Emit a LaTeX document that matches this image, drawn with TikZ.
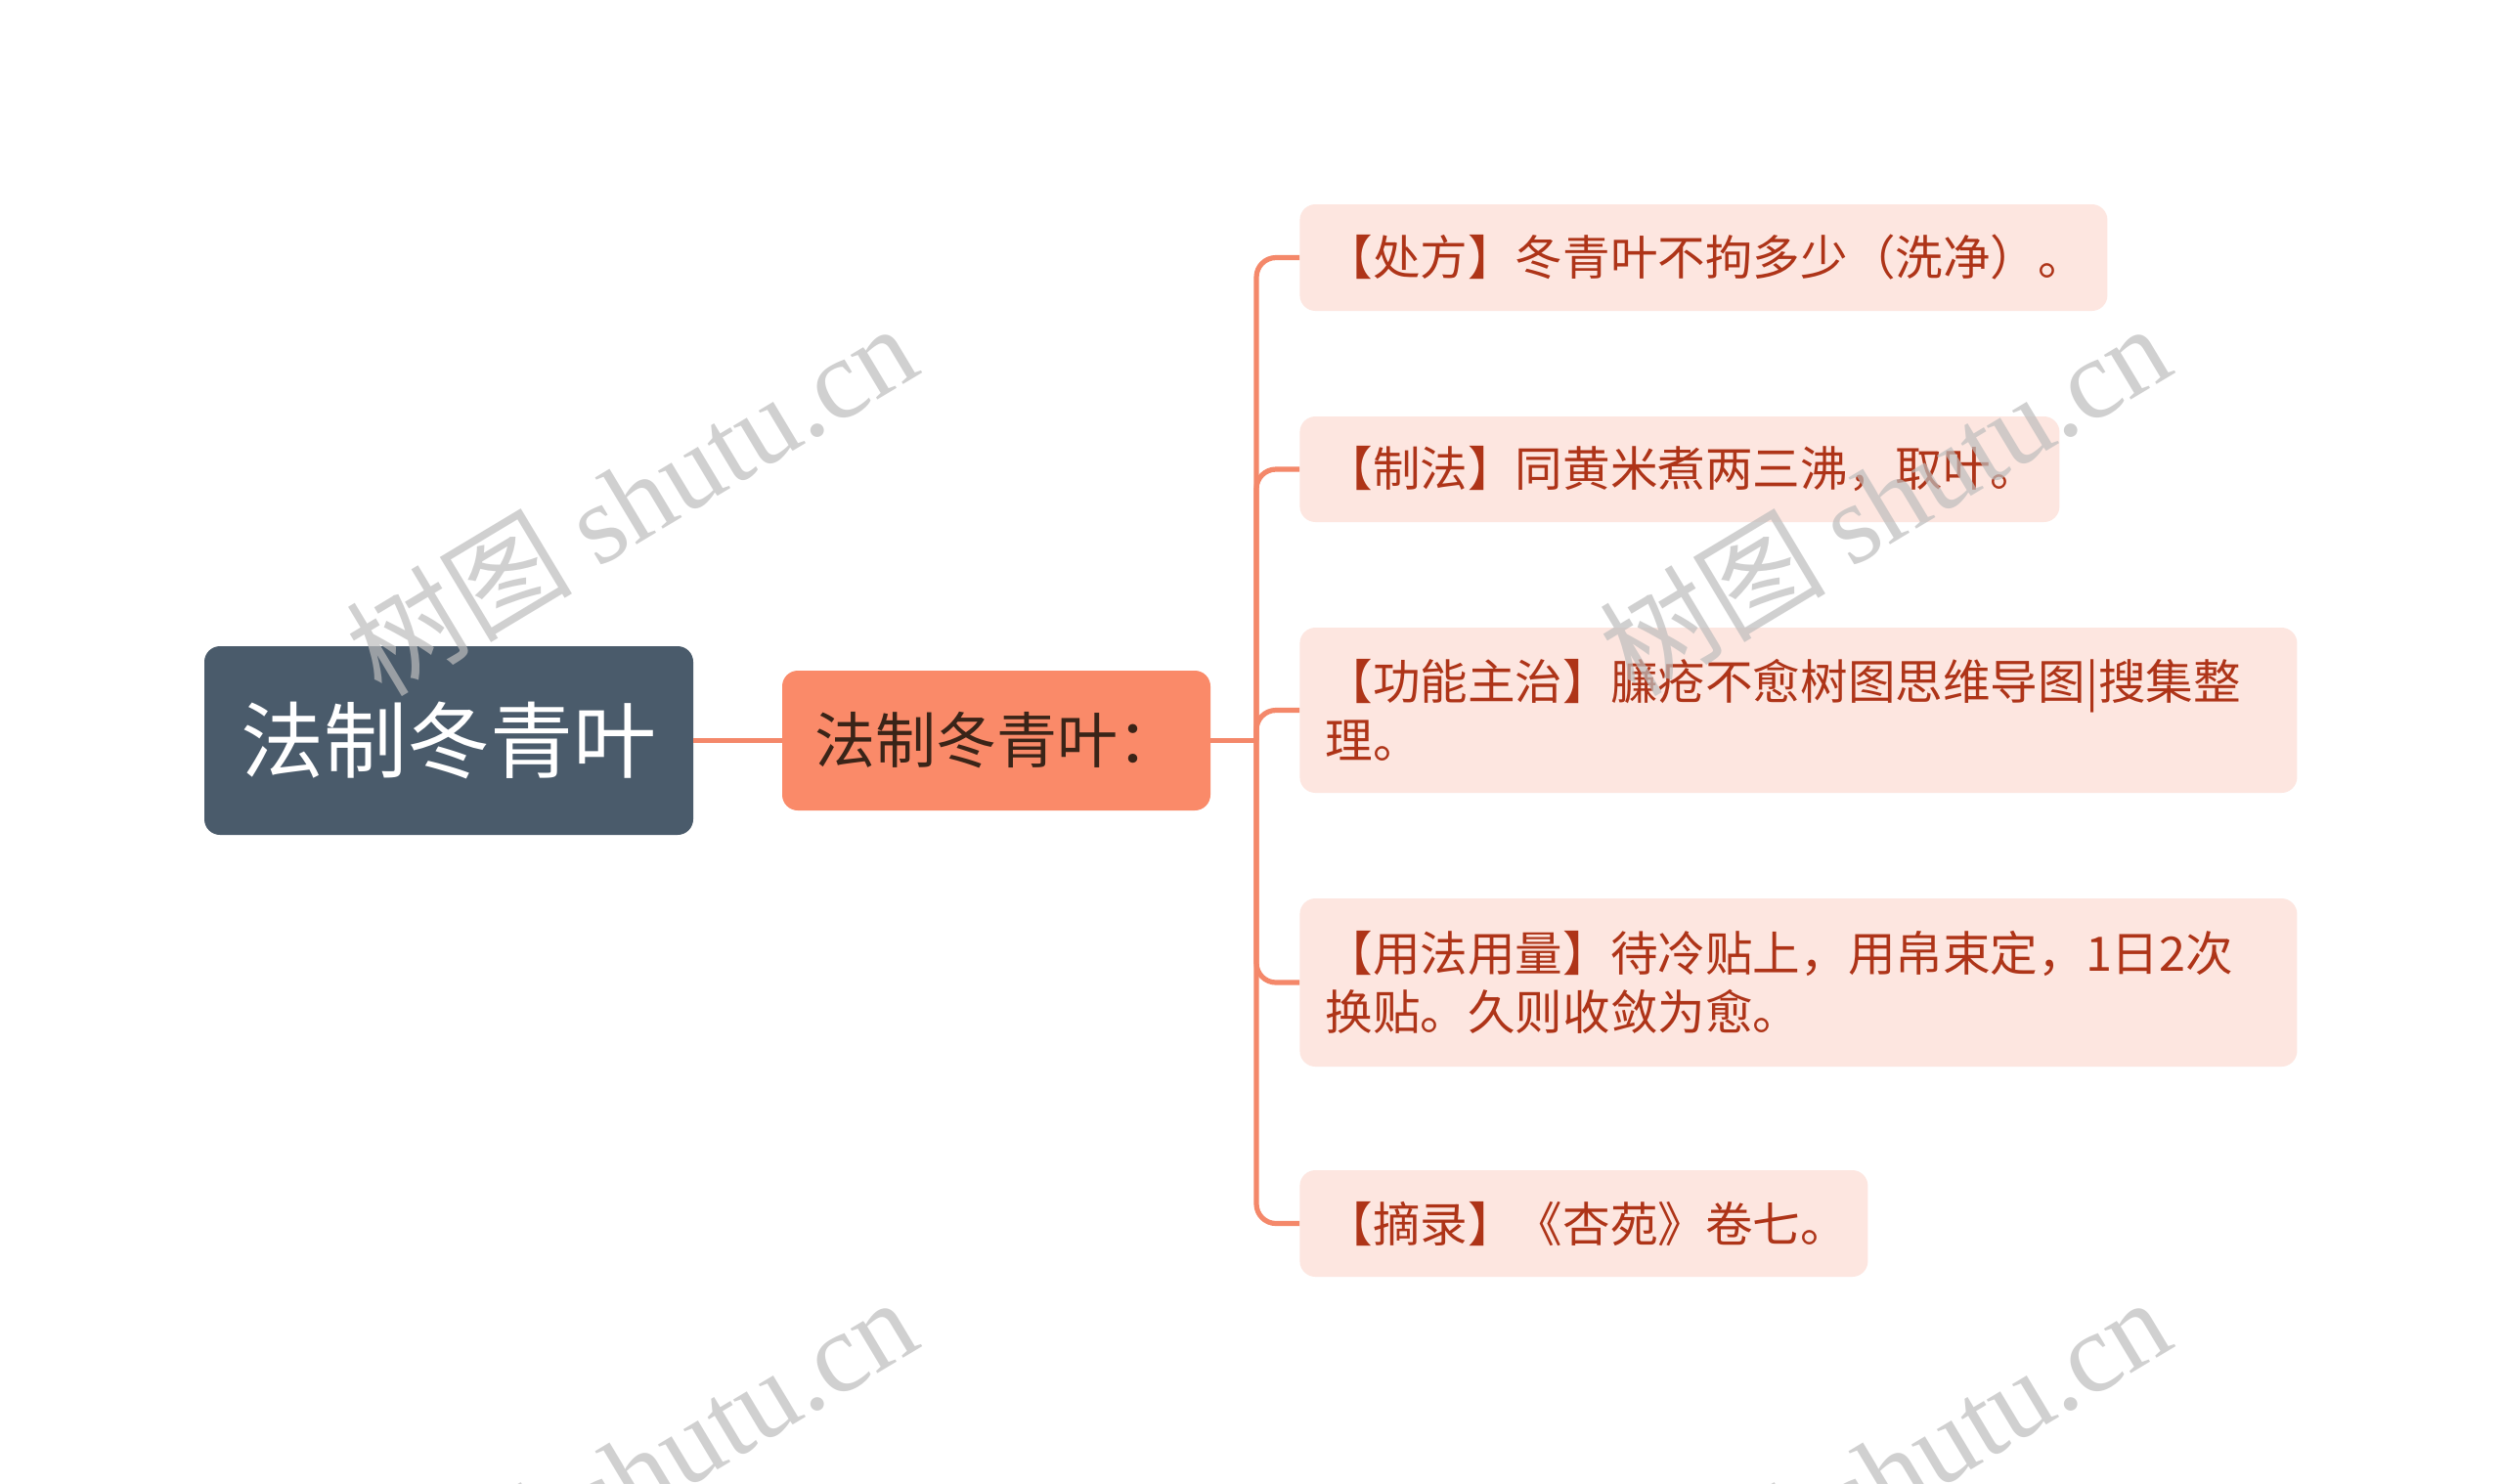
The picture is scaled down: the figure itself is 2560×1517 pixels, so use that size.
\documentclass[tikz,border=0pt]{standalone}
\usepackage{fontspec}
\setmainfont{Noto Sans CJK SC}
\newfontfamily\wmlat{Liberation Serif}
\usetikzlibrary{calc}
\definecolor{rootfill}{HTML}{4A5B6B}
\definecolor{subfill}{HTML}{FA8A69}
\definecolor{subtext}{HTML}{3A2418}
\definecolor{leaffill}{HTML}{FDE6E0}
\definecolor{leaftext}{HTML}{AE3418}
\definecolor{conncol}{HTML}{F4886A}
\definecolor{wmcol}{HTML}{BDBDBD}
\tikzset{
  rootbox/.style={fill=rootfill, rounded corners=8pt, text=white, font=\fontsize{42.5pt}{50pt}\selectfont,
    minimum width=250pt, minimum height=96.5pt, inner sep=0pt},
  subbox/.style={fill=subfill, rounded corners=8pt, text=subtext, font=\fontsize{31pt}{36pt}\selectfont,
    minimum width=219pt, minimum height=71.5pt, inner sep=0pt},
  leafbox/.style={fill=leaffill, rounded corners=8pt, text=leaftext, font=\fontsize{24.3pt}{30pt}\selectfont,
    align=left, inner xsep=13pt, inner ysep=0pt, anchor=west},
  conn/.style={draw=conncol, line width=2.6pt, rounded corners=10pt},
  wm/.style={text=wmcol, opacity=0.7, rotate=31, font=\fontsize{58pt}{60pt}\selectfont},
}
\begin{document}
\begin{tikzpicture}[x=0.5pt, y=-0.5pt]
\fill[white] (0,0) rectangle (2560,1517);
\useasboundingbox (0,0) rectangle (2560,1517);

\node[rootbox] (root) at (459,757.5) {法制冬青叶};
\node[subbox] (sub) at (1019,757.5) {法制冬青叶：};

\node[leafbox, text width=387pt, minimum height=54.5pt] (l1) at (1329,263.5) {【处方】冬青叶不拘多少（洗净）。};
\node[leafbox, text width=362.5pt, minimum height=54pt] (l2) at (1329,480) {【制法】同黄米煮两三沸，取叶。};
\node[leafbox, text width=484pt, minimum height=84.5pt] (l3) at (1329,726.5) {【功能主治】臁疮不愈树图思维导图|搜集整\\理。};
\node[leafbox, text width=484pt, minimum height=86pt] (l4) at (1329,1005) {【用法用量】待冷贴上，用帛束定，1日2次\\换贴。久则收敛为愈。};
\node[leafbox, text width=264.5pt, minimum height=54.5pt] (l5) at (1329,1251.5) {【摘录】《杏苑》卷七。};

\coordinate (j) at (1285,757.5);
\draw[conn] (root.east) -- (sub.west);
\draw[conn] (sub.east) -- (j);
\foreach \n in {l1,l2,l3,l4,l5}{
  \draw[conn] (j) |- (\n.west);
}

\node[wm] (w1) at (645,510) {树图 {\wmlat shutu.cn}};
\node[wm] (w2) at (1927,510) {树图 {\wmlat shutu.cn}};
\node[wm] (w3) at (645,1506) {树图 {\wmlat shutu.cn}};
\node[wm] (w4) at (1927,1506) {树图 {\wmlat shutu.cn}};
\end{tikzpicture}
\end{document}
